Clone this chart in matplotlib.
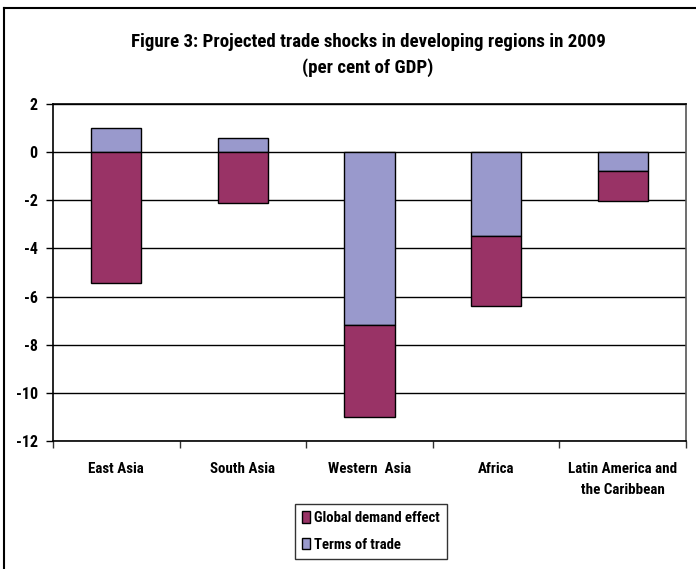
import numpy as np
import matplotlib.pyplot as plt
from matplotlib.lines import Line2D
from matplotlib.patches import Patch

plt.rcParams['font.family'] = ['Roboto Condensed', 'PT Sans Narrow', 'DejaVu Sans']
plt.rcParams['font.weight'] = 'bold'

regions = ['East Asia', 'South Asia', 'Western  Asia', 'Africa', 'Latin America and\nthe Caribbean']
terms_of_trade = [1.0, 0.6, -7.2, -3.5, -0.8]
demand_effect = [-5.45, -2.1, -3.8, -2.9, -1.25]

col_demand = '#993366'
col_tot = '#9999CC'

fig = plt.figure(figsize=(6.96, 5.69), dpi=100)
ax = fig.add_axes([53/696, 1-441/569, 633/696, 337/569])

x = np.arange(len(regions))
tot = np.array(terms_of_trade)
dem = np.array(demand_effect)
dem_bottom = np.minimum(tot, 0)

ax.bar(x, tot, width=0.395, color=col_tot, edgecolor='black', linewidth=1, zorder=3)
ax.bar(x, dem, bottom=dem_bottom, width=0.395, color=col_demand, edgecolor='black', linewidth=1, zorder=3)

ax.set_xlim(-0.5, len(regions)-0.5)
ax.set_ylim(-12, 2)
ax.set_yticks(np.arange(-12, 3, 2))
ax.set_yticklabels([str(v) for v in range(-12, 3, 2)], fontsize=11.5, fontweight='bold')
ax.yaxis.grid(True, color='black', linewidth=1, zorder=0)
ax.set_axisbelow(True)

ax.set_xticks(x)
ax.set_xticklabels(regions, fontsize=10.8, fontweight='bold', linespacing=1.65, va='top')
ax.tick_params(axis='x', which='major', length=0, pad=15)
ax.set_xticks(np.arange(-0.5, len(regions), 1), minor=True)
ax.tick_params(axis='x', which='minor', length=5, width=1, color='#333333', direction='out')
ax.tick_params(axis='y', length=5, width=1, direction='out', pad=6)

for s in ['left', 'bottom', 'top']:
    ax.spines[s].set_color('black')
    ax.spines[s].set_linewidth(1.2)
ax.spines['right'].set_color('#555555')
ax.spines['right'].set_linewidth(1.2)

fig.text(368/696, 1-42/569, 'Figure 3: Projected trade shocks in developing regions in 2009',
         ha='center', va='center', fontsize=13.6, fontweight='bold')
fig.text(368/696, 1-68/569, '(per cent of GDP)', ha='center', va='center', fontsize=13.6, fontweight='bold')

handles = [Patch(facecolor=col_demand, edgecolor='black'), Patch(facecolor=col_tot, edgecolor='black')]
leg = fig.legend(handles, ['Global demand effect', 'Terms of trade'], loc='center',
                 bbox_to_anchor=(371/696, 1-531.5/569), frameon=True, fancybox=False,
                 fontsize=10.6, handlelength=0.55, handleheight=0.8, handletextpad=0.3,
                 labelspacing=0.85, borderpad=0.5, borderaxespad=0, alignment='left')
leg.get_frame().set_edgecolor('black')
leg.get_frame().set_linewidth(1)

# outer chart border (left and top only visible)
fig.add_artist(Line2D([3.5/696, 3.5/696], [0, 1-7.5/569], transform=fig.transFigure, color='black', lw=1.5))
fig.add_artist(Line2D([3.5/696, 1], [1-7.5/569, 1-7.5/569], transform=fig.transFigure, color='black', lw=1.5))

fig.savefig('out.png', dpi=100)
